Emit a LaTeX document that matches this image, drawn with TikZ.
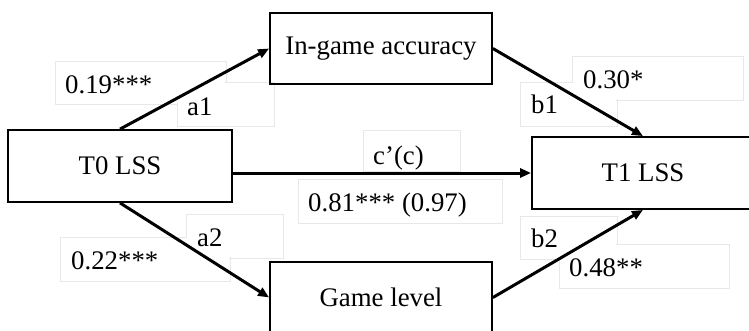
\documentclass[tikz,border=0pt]{standalone}
\usepackage{fontspec}
\setmainfont{Liberation Serif}
\usetikzlibrary{arrows.meta}

\begin{document}
\begin{tikzpicture}[x=1pt,y=-1pt,
  varbox/.style={draw=black,line width=1.8pt,minimum width=222pt,minimum height=71pt,
    inner sep=0pt,font=\fontsize{26.8}{32}\selectfont},
  path/.style={line width=3pt,-{Triangle[length=11pt,width=9pt]}},
  lblframe/.style={draw=black!9,line width=1pt},
  lbltext/.style={anchor=base west,inner sep=0pt,font=\fontsize{26.8}{32}\selectfont}]
\useasboundingbox (0,0) rectangle (749,330);
\begin{scope}
\clip (0,0) rectangle (749,330);

% text-box frames of the coefficient labels (outlines merge where boxes overlap)
\foreach \xa/\ya/\xb/\yb in {55/61/226/104, 177/82/274/126, 60/237/230/281, 186/214/283/258,
  363/130/460/171, 298/179/502/223, 572/56/743/100, 520/82/617/126, 520/216/617/259, 559/244/729/288}
  \draw[lblframe] (\xa,\ya) rectangle (\xb,\yb);
\foreach \xa/\ya/\xb/\yb in {55/61/226/104, 177/82/274/126, 60/237/230/281, 186/214/283/258,
  363/130/460/171, 298/179/502/223, 572/56/743/100, 520/82/617/126, 520/216/617/259, 559/244/729/288}
  \fill[white] (\xa+0.6,\ya+0.6) rectangle (\xb-0.6,\yb-0.6);

% variables
\node[varbox,minimum width=224pt,minimum height=72pt] (T0) at (120,166) {T0 LSS};
\node[varbox] (acc) at (381,48.5) {In-game accuracy};
\node[varbox] (game) at (381,297.5) {Game level};
\node[varbox,minimum height=72pt] (T1) at (643,173) {T1 LSS};

% paths
\draw[path] (T0.north) -- (acc.west);
\draw[path] (acc.east) -- (T1.north);
\draw[path] (T0.east |- T1.west) -- (T1.west);
\draw[path] (T0.south) -- (game.west);
\draw[path] (game.east) -- (T1.south);

% coefficients
\node[lbltext] (la1) at (65,93) {0.19***};
\node[lbltext] (na1) at (187,115) {a1};
\node[lbltext] (la2) at (71,269) {0.22***};
\node[lbltext] (na2) at (197,246) {a2};
\node[lbltext] (nc) at (373,164) {c’(c)};
\node[lbltext] (lc) at (308,211) {0.81*** (0.97)};
\node[lbltext] (lb1) at (583,88) {0.30*};
\node[lbltext] (nb1) at (531,113) {b1};
\node[lbltext] (nb2) at (531,247) {b2};
\node[lbltext] (lb2) at (569,276) {0.48**};
\end{scope}
\end{tikzpicture}
\end{document}
